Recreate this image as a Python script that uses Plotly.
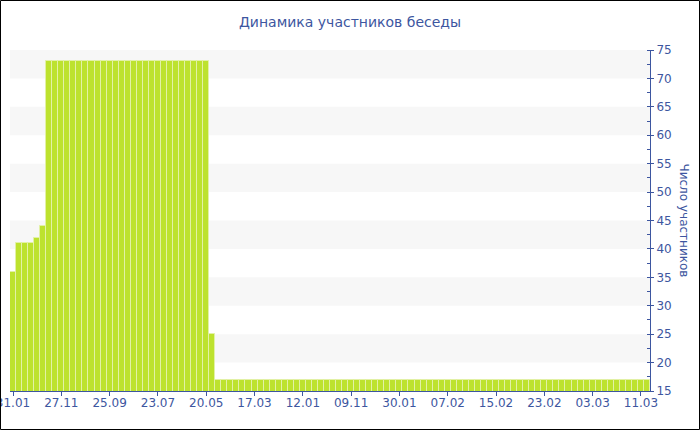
import plotly.graph_objects as go

# ---- data ----
tick_labels = ["31.01", "27.11", "25.09", "23.07", "20.05", "17.03", "12.01",
               "09.11", "30.01", "07.02", "15.02", "23.02", "03.03", "11.03"]
tick_step = 8
members = ([36, 41, 41, 41, 42, 44] + [73] * 27 + [25] + [17] * 72)

title_text = "Динамика участников беседы"
y_title = "Число участников"

# ---- styling ----
W, H = 700, 430
ml, mr, mt, mb = 10, 50, 50, 39
pw, ph = W - ml - mr, H - mt - mb
blue = "#3d56a0"
bar_color = "#bde22e"
font = "DejaVu Sans"

x = list(range(len(members)))
tickvals = [i * tick_step for i in range(len(tick_labels))]

fig = go.Figure()
fig.add_trace(go.Bar(
    x=x, y=members,
    marker=dict(color=bar_color, line=dict(color="#e2f1a6", width=1)),
    hoverinfo="y",
))

shapes = []
# alternating bands
for lo in range(20, 75, 10):
    shapes.append(dict(type="rect", xref="paper", yref="y", x0=0, x1=1,
                       y0=lo, y1=lo + 5, fillcolor="#f7f7f7",
                       line=dict(width=0), layer="below"))
# outer border
shapes.append(dict(type="rect", xref="paper", yref="paper",
                   x0=-(ml - 0.5) / pw, x1=1 + (mr - 0.5) / pw,
                   y0=-(mb - 0.5) / ph, y1=1 + (mt - 0.5) / ph,
                   line=dict(color="#000000", width=1), layer="above"))

fig.update_layout(
    width=W, height=H,
    margin=dict(l=ml, r=mr, t=mt, b=mb, autoexpand=False),
    paper_bgcolor="white", plot_bgcolor="white",
    bargap=0,
    showlegend=False,
    title=dict(text=title_text, x=0.5, xref="container", xanchor="center",
               y=1 - 22 / H, yanchor="middle", automargin=False,
               font=dict(family=font, size=14, color=blue)),
    shapes=shapes,
    annotations=[dict(text=y_title, textangle=90, xref="paper", yref="paper",
                      x=1 + 34 / pw, y=0.5, xanchor="center", yanchor="middle",
                      showarrow=False, font=dict(family=font, size=12, color=blue))],
    xaxis=dict(range=[-0.5, len(members) - 0.5], tickmode="array",
               tickvals=tickvals, ticktext=tick_labels, automargin=False,
               ticklabeloverflow="allow", ticklabelstandoff=-3,
               showgrid=False, zeroline=False,
               showline=True, linecolor=blue, linewidth=1,
               ticks="outside", ticklen=4, tickcolor=blue,
               tickfont=dict(family=font, size=12, color=blue)),
    yaxis=dict(side="right", range=[15, 75], dtick=5, tick0=15, automargin=False,
               showgrid=False, zeroline=False,
               showline=True, linecolor=blue, linewidth=1,
               ticks="outside", ticklen=3, tickcolor=blue,
               minor=dict(dtick=2.5, ticks="inside", ticklen=3, tickcolor=blue),
               tickfont=dict(family=font, size=12, color=blue)),
)

fig.write_html("out.html", config={"displayModeBar": False},
               post_script="document.body.style.margin='0';document.body.style.overflow='hidden';")
